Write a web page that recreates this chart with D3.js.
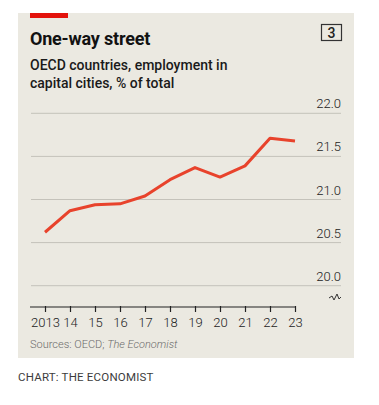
<!DOCTYPE html>
<html>
<head>
<meta charset="utf-8">
<script src="https://cdn.jsdelivr.net/npm/d3@7"></script>
<style>
  html, body { margin: 0; padding: 0; background: #ffffff; }
  svg { display: block; }
  text { font-family: Roboto, "Liberation Sans", sans-serif; }
</style>
</head>
<body>
<svg id="chart" width="379" height="405"></svg>
<script>
const years = [2013, 2014, 2015, 2016, 2017, 2018, 2019, 2020, 2021, 2022, 2023];
const yearLabels = ["2013", "14", "15", "16", "17", "18", "19", "20", "21", "22", "23"];
const employmentShare = [20.62, 20.87, 20.94, 20.95, 21.04, 21.23, 21.37, 21.26, 21.39, 21.71, 21.68];
const yTicks = [20.0, 20.5, 21.0, 21.5, 22.0];

const svg = d3.select("#chart");

// panel
svg.append("rect").attr("x", 18).attr("y", 13).attr("width", 336).attr("height", 345).attr("fill", "#ebe9e1");
svg.append("rect").attr("x", 30).attr("y", 13).attr("width", 38).attr("height", 5).attr("fill", "#e3120b");

svg.append("text").attr("x", 30).attr("y", 45).attr("font-size", 18).attr("font-weight", 700)
  .attr("fill", "#121212").style("letter-spacing", "-0.2px").text("One-way street");

svg.append("rect").attr("x", 321.5).attr("y", 24.5).attr("width", 20).attr("height", 16)
  .attr("fill", "none").attr("stroke", "#333").attr("stroke-width", 1.2);
svg.append("text").attr("x", 331.5).attr("y", 37.5).attr("text-anchor", "middle").attr("font-size", 14)
  .attr("font-weight", 500).attr("fill", "#222").text("3");

svg.append("text").attr("x", 30).attr("y", 70).attr("font-size", 14).attr("font-weight", 500)
  .attr("fill", "#1a1a1a").text("OECD countries, employment in");
svg.append("text").attr("x", 30).attr("y", 88).attr("font-size", 14).attr("font-weight", 500)
  .attr("fill", "#1a1a1a").text("capital cities, % of total");

const x = d3.scaleLinear().domain([2013, 2023]).range([45, 295]);
const y = d3.scaleLinear().domain([20, 22]).range([285.7, 113.3]);

// gridlines + labels
const grid = svg.append("g");
yTicks.forEach(t => {
  grid.append("line").attr("x1", 31).attr("x2", 341).attr("y1", y(t)).attr("y2", y(t))
    .attr("stroke", "#c4c2ba").attr("stroke-width", 1);
  grid.append("text").attr("x", 341).attr("y", y(t) - 5).attr("text-anchor", "end")
    .attr("font-size", 13).attr("font-weight", 300).attr("fill", "#222").text(t.toFixed(1));
});

// break symbol
svg.append("path")
  .attr("d", `M329 298 L332 296 L334 300 L337 294 L339 299 L341 297`)
  .attr("fill", "none").attr("stroke", "#333").attr("stroke-width", 1);

// x axis
const xAxis = d3.axisBottom(x).tickValues(years).tickSize(5).tickFormat((d, i) => yearLabels[i]);
const gx = svg.append("g").attr("transform", "translate(0,307)").call(xAxis);
gx.select(".domain").remove();
gx.append("line").attr("x1", 30).attr("x2", 295).attr("y1", 0).attr("y2", 0)
  .attr("stroke", "#222").attr("stroke-width", 1.2);
gx.selectAll(".tick line").attr("stroke", "#222").attr("stroke-width", 1.2).attr("y1", -1);
gx.selectAll(".tick text").attr("font-size", 13).attr("font-weight", 300).attr("fill", "#222")
  .attr("dy", 0).attr("y", 20).style("font-family", "Roboto, sans-serif");

// line
const line = d3.line().x((d, i) => x(years[i])).y(d => y(d));
svg.append("path").datum(employmentShare).attr("d", line)
  .attr("fill", "none").attr("stroke", "#e8432c").attr("stroke-width", 3)
  .attr("stroke-linejoin", "round");

svg.append("text").attr("x", 30).attr("y", 348).attr("font-size", 11).attr("font-weight", 300)
  .attr("fill", "#6b6b6b")
  .html('Sources: OECD; <tspan font-style="italic">The Economist</tspan>');

svg.append("text").attr("x", 18).attr("y", 381).attr("font-size", 11.5)
  .attr("fill", "#3c3c3c").style("letter-spacing", "0.2px").text("CHART: THE ECONOMIST");
</script>
</body>
</html>
